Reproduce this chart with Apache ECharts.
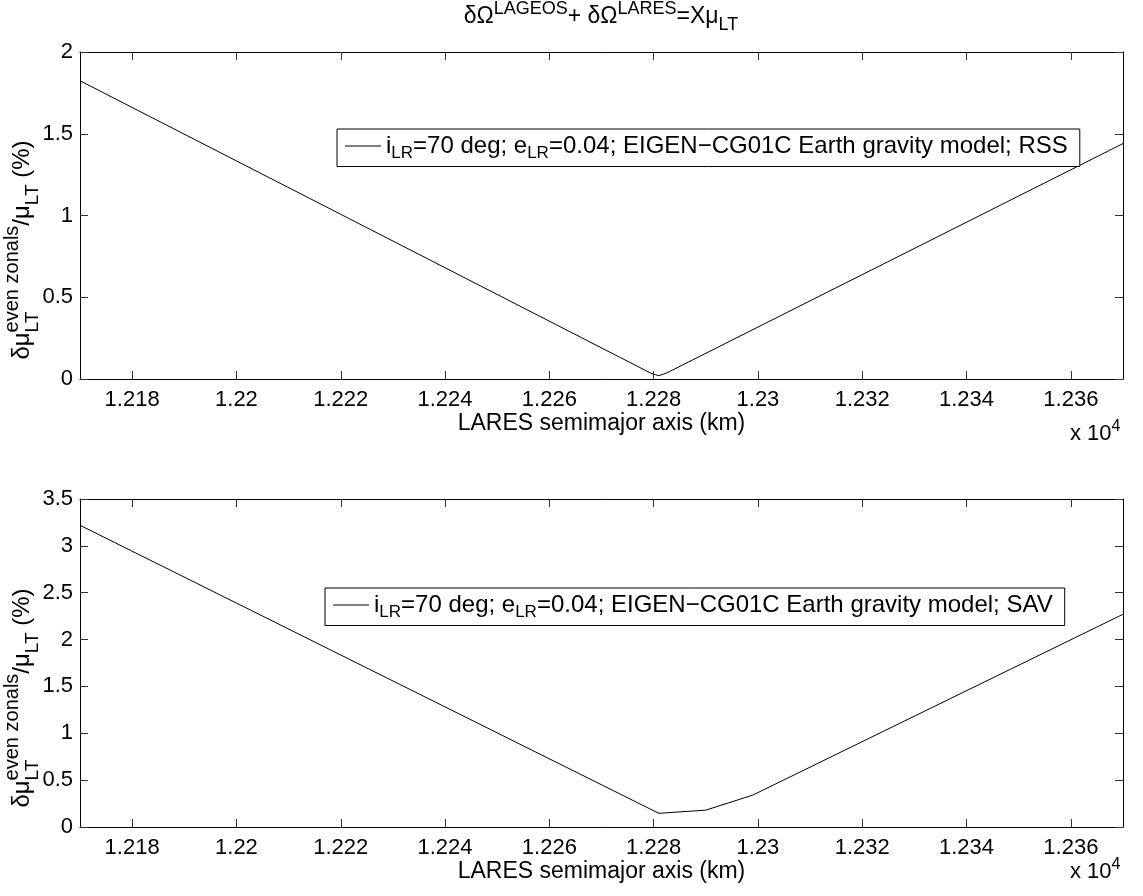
<!DOCTYPE html>
<html><head><meta charset="utf-8">
<script src="https://cdn.jsdelivr.net/npm/echarts@6/dist/echarts.min.js"></script>
<style>html,body{margin:0;padding:0;background:#fff}#c{width:1143px;height:896px}</style>
</head><body><div id="c"></div>
<script>
// ---- data ----
const xTicks = [12180,12200,12220,12240,12260,12280,12300,12320,12340,12360];
const yTicksTop = [0,0.5,1,1.5,2];
const yTicksBottom = [0,0.5,1,1.5,2,2.5,3,3.5];
const rssX = [12170, 12279.5, 12281, 12282.5, 12370];
const rssY = [1.824, 0.035, 0.02, 0.037, 1.44];
const savX = [12170, 12281, 12290, 12299, 12370];
const savY = [3.22, 0.146, 0.18, 0.34, 2.27];
const xLabel = 'LARES semimajor axis (km)';
const legendRSS = 'EIGEN\u2212CG01C Earth gravity model; RSS';
const legendSAV = 'EIGEN\u2212CG01C Earth gravity model; SAV';

const FONT = "'Liberation Sans', Arial, Helvetica, sans-serif";
const FS = 22;   // tick labels
const FN = 23;   // axis names, title
const FL = 24;   // legend
const chart = echarts.init(document.getElementById('c'), null, {renderer:'canvas'});

function fmtX(v){ return String(parseFloat((v/10000).toFixed(4))); }
function xAx(g, top){
  return {
    gridIndex:g, type:'value', min:12170, max:12370, position: top?'top':'bottom',
    axisLine:{show:true, onZero:false, lineStyle:{color:'#000', width:1}},
    axisTick:{show:true, inside:true, length:8, customValues:xTicks, lineStyle:{color:'#333', width:1}},
    axisLabel:{show:!top, customValues:xTicks, formatter:fmtX, fontSize:FS, fontFamily:FONT, color:'#000', margin:10},
    splitLine:{show:false},
    name: top? '' : xLabel, nameLocation:'middle', nameGap:27,
    nameTextStyle:{fontSize:FN, fontFamily:FONT, color:'#000'}
  };
}
function yAx(g, right, max, ticks){
  return {
    gridIndex:g, type:'value', min:0, max:max, position: right?'right':'left',
    axisLine:{show:true, onZero:false, lineStyle:{color:'#000', width:1}},
    axisTick:{show:true, inside:true, length:8, customValues:ticks, lineStyle:{color:'#333', width:1}},
    axisLabel:{show:!right, customValues:ticks, formatter:v=>String(v), fontSize:FS, fontFamily:FONT, color:'#000', margin:7},
    splitLine:{show:false}
  };
}
const legRich = {
  m:{fontSize:FL, fontFamily:FONT, color:'#000', lineHeight:31},
  b:{fontSize:17, fontFamily:FONT, color:'#000', lineHeight:14, verticalAlign:'bottom'}
};
function legFmt(rest){ return '{m|i}{b|LR}{m|=70 deg; e}{b|LR}{m|=0.04; '+rest+'}'; }

const yNameRich = {
  m:{fontSize:24, fontFamily:FONT, fill:'#000', lineHeight:40, align:'left'},
  b0:{fontSize:19, fontFamily:FONT, fill:'#000', lineHeight:14, verticalAlign:'bottom', width:0, align:'left'},
  b:{fontSize:19, fontFamily:FONT, fill:'#000', lineHeight:14, verticalAlign:'bottom', align:'left'},
  p:{fontSize:20, fontFamily:FONT, fill:'#000', lineHeight:20, verticalAlign:'top', align:'left'}
};
const yNameText = '{m|\u03b4\u03bc}{b0|LT}{p|even zonals}{m|/\u03bc}{b|LT}{m| (%)}';
const titleRich = {
  m:{fontSize:FN, fontFamily:FONT, fill:'#000', lineHeight:34},
  p:{fontSize:18, fontFamily:FONT, fill:'#000', lineHeight:18, verticalAlign:'top'},
  b:{fontSize:18, fontFamily:FONT, fill:'#000', lineHeight:10, verticalAlign:'bottom'}
};
const x10Rich = {m:{fontSize:22, fontFamily:FONT, fill:'#000', lineHeight:30}, p:{fontSize:16, fontFamily:FONT, fill:'#000', lineHeight:16, verticalAlign:'top'}};

function legend(name, left, top, rest){
  return {data:[name], left:left, top:top, orient:'horizontal', borderColor:'#000', borderWidth:1, borderRadius:0,
    padding:[5,12,5,8], itemWidth:36, itemHeight:1, itemGap:0, icon:'rect', backgroundColor:'#fff',
    itemStyle:{color:'#000'},
    formatter:()=>legFmt(rest), textStyle:{fontSize:FL, fontFamily:FONT, color:'#000', rich:legRich}};
}

chart.setOption({
  animation:false,
  backgroundColor:'#fff',
  grid:[
    {left:80, top:52, width:1043, height:327, containLabel:false, outerBoundsMode:'none'},
    {left:80, top:499, width:1043, height:328, containLabel:false, outerBoundsMode:'none'}
  ],
  xAxis:[xAx(0,false), xAx(0,true), xAx(1,false), xAx(1,true)],
  yAxis:[yAx(0,false,2,yTicksTop), yAx(0,true,2,yTicksTop), yAx(1,false,3.5,yTicksBottom), yAx(1,true,3.5,yTicksBottom)],
  legend:[ legend('RSS', 337, 129, legendRSS), legend('SAV', 325, 588, legendSAV) ],
  series:[
    {name:'RSS', type:'line', xAxisIndex:0, yAxisIndex:0, symbol:'none', silent:true,
     lineStyle:{color:'#000', width:1}, itemStyle:{color:'#000'},
     data: rssX.map((x,i)=>[x, rssY[i]])},
    {name:'SAV', type:'line', xAxisIndex:2, yAxisIndex:2, symbol:'none', silent:true,
     lineStyle:{color:'#000', width:1}, itemStyle:{color:'#000'},
     data: savX.map((x,i)=>[x, savY[i]])}
  ],
  graphic:[
    {type:'text', x:601, y:0, style:{
      text:'{m|\u03b4\u03a9}{p|LAGEOS}{m|+ \u03b4\u03a9}{p|LARES}{m|=X\u03bc}{b|LT}',
      align:'center', verticalAlign:'top', rich:titleRich}},
    {type:'text', x:22, y:250, rotation:Math.PI/2, style:{text:yNameText, align:'center', verticalAlign:'middle', rich:yNameRich}},
    {type:'text', x:22, y:698, rotation:Math.PI/2, style:{text:yNameText, align:'center', verticalAlign:'middle', rich:yNameRich}},
    {type:'text', x:1070, y:419, style:{text:'{m|x 10}{p|4}', align:'left', verticalAlign:'top', rich:x10Rich}},
    {type:'text', x:1070, y:857, style:{text:'{m|x 10}{p|4}', align:'left', verticalAlign:'top', rich:x10Rich}}
  ]
});
</script>
</body></html>
